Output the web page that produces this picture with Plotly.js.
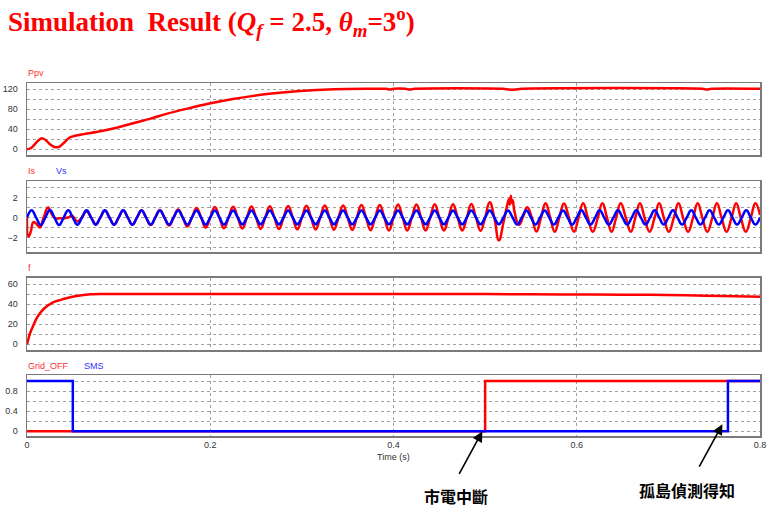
<!DOCTYPE html>
<html><head><meta charset="utf-8">
<script src="https://cdn.plot.ly/plotly-3.0.1.min.js"></script>
<style>html,body{margin:0;padding:0;background:#fff}#chart{width:767px;height:506px}</style>
</head><body><div id="chart"></div>
<script>
// ---- Ppv ----
const ppvT = [0,0.004,0.008,0.012,0.016,0.020,0.025,0.031,0.036,0.041,0.047,0.058,0.080,0.100,0.116,0.135,0.153,0.175,0.199,0.225,0.262,0.298,0.335,0.371,0.392,0.396,0.400,0.413,0.418,0.423,0.520,0.526,0.533,0.540,0.737,0.742,0.747,0.800];
const ppvV = [0,2,9,17,22,19,10,4,6,14,24,29,36,44,52,61,71,81,91,100,110,116,119.5,120.5,120.5,119,120.5,120.5,119,120.5,120.5,119,119,120.5,120.5,119,120.5,120.5];

// ---- Is (red) ----
const isT = [0,0.0015,0.004,0.007,0.010,0.014,0.018,0.023,0.027,0.031,0.036,0.041,0.045,0.049,0.052,0.055,0.060,0.065,0.070,
0.075,0.080,0.085,0.090,0.095,0.100,0.105,0.110,0.115,0.120,0.125,0.130,0.135,0.140,0.145,0.150,0.155,0.160,0.165,0.170,
0.175,0.180,0.185,0.190,0.195,0.200,0.205,0.210,0.215,0.220,0.225,0.230,0.235,0.240,0.245,0.250,0.255,0.260,0.265,0.270,
0.275,0.280,0.285,0.290,0.295,0.300,0.305,0.310,0.315,0.320,0.325,0.330,0.335,0.340,0.345,0.350,0.355,0.360,0.365,0.370,
0.375,0.380,0.385,0.390,0.395,0.400,0.405,0.410,0.415,0.420,0.425,0.430,0.435,0.440,0.445,0.450,0.455,0.460,0.465,0.470,
0.475,0.480,0.485,0.490,0.495,0.500,
0.505,0.510,0.515,0.520,0.524,0.526,0.527,0.528,0.529,0.530,0.532,0.537,0.5415,
0.546,0.551,0.556,0.561,0.566,0.571,0.576,0.581,0.586,0.5915,0.597,0.602,
0.607,0.612,0.6175,0.623,0.628,0.633,0.638,0.643,0.648,0.6535,0.659,0.664,
0.669,0.674,0.6795,0.685,0.690,0.695,0.7005,0.706,0.711,0.716,0.7215,0.727,
0.732,0.737,0.7425,0.748,0.753,0.758,0.7635,0.769,0.774,0.779,0.7845,0.790,
0.795,0.800];
const isV = [0,-1.9,-1.45,-0.45,-0.6,-1.0,-0.05,1.0,0.35,-0.07,-0.08,-0.06,0.0,0.17,-0.1,-0.4,0.05,0.6,0,
-0.65,0,0.68,0,-0.7,0,0.72,0,-0.72,0,0.74,0,-0.75,0,0.76,0,-0.8,0,0.82,0,
-0.9,0,0.95,0,-1.0,0,1.05,0,-1.07,0,1.08,0,-1.1,0,1.1,0,-1.12,0,1.13,0,
-1.15,0,1.16,0,-1.18,0,1.18,0,-1.2,0,1.2,0,-1.22,0,1.22,0,-1.25,0,1.25,0,
-1.27,0,1.27,0,-1.3,0,1.3,0,-1.3,0,1.32,0,-1.3,0,1.33,0,-1.3,0,1.33,0,
-1.3,0,1.35,0,-1.32,0,
1.53,0,-2.3,-0.5,1.2,1.85,1.3,2.2,1.5,1.75,0.6,-0.73,0.1,
1.03,0,-1.4,0,1.43,0,-1.42,0,1.42,0,-1.42,0,
1.43,0,-1.42,0,1.43,0,-1.42,0,1.43,0,-1.43,0,
1.43,0,-1.43,0,1.43,0,-1.43,0,1.43,0,-1.43,0,
1.43,0,-1.43,0,1.43,0,-1.43,0,1.43,0,-1.43,0,
1.43,0.25];

// ---- Vs (blue) ----
const vsT = [0,0.005,0.01,0.015,0.02,0.025,0.03,0.035,0.04,0.045,0.05,0.055,0.06,0.065,0.07,0.075,0.08,0.085,0.09,0.095,
0.1,0.105,0.11,0.115,0.12,0.125,0.13,0.135,0.14,0.145,0.15,0.155,0.16,0.165,0.17,0.175,0.18,0.185,0.19,0.195,
0.2,0.205,0.21,0.215,0.22,0.225,0.23,0.235,0.24,0.245,0.25,0.255,0.26,0.265,0.27,0.275,0.28,0.285,0.29,0.295,
0.3,0.305,0.31,0.315,0.32,0.325,0.33,0.335,0.34,0.345,0.35,0.355,0.36,0.365,0.37,0.375,0.38,0.385,0.39,0.395,
0.4,0.405,0.41,0.415,0.42,0.425,0.43,0.435,0.44,0.445,0.45,0.455,0.46,0.465,0.47,0.475,0.48,0.485,0.49,0.495,
0.5,0.505,0.51,0.515,0.52,0.525,0.53,0.535,0.54,0.545,0.55,0.555,0.56,0.565,0.57,0.575,0.58,0.585,0.59,0.595,
0.6,0.605,0.61,0.615,0.62,0.625,0.63,0.635,0.64,0.645,0.65,0.655,0.66,0.665,0.67,0.675,0.68,0.685,0.69,0.695,
0.7,0.705,0.71,0.715,0.72,0.725,0.73,0.735,0.74,0.745,0.75,0.755,0.76,0.765,0.77,0.775,0.78,0.785,0.79,0.795,
0.8];
const vsV = [0,0.74,0,-0.74,0,0.75,0,-0.74,0,0.74,0,-0.73,0,0.74,0,-0.72,0,0.73,0,-0.72,
0,0.73,0,-0.72,0,0.72,0,-0.71,0,0.72,0,-0.7,0,0.72,0,-0.7,0,0.71,0,-0.7,
0,0.71,0,-0.69,0,0.7,0,-0.68,0,0.7,0,-0.68,0,0.7,0,-0.68,0,0.7,0,-0.68,
0,0.7,0,-0.68,0,0.7,0,-0.68,0,0.7,0,-0.68,0,0.7,0,-0.68,0,0.7,0,-0.68,
0,0.7,0,-0.68,0,0.7,0,-0.68,0,0.7,0,-0.68,0,0.7,0,-0.68,0,0.7,0,-0.68,
0,0.7,0,-0.68,0,0.71,0,-0.69,0,0.71,0,-0.69,0,0.72,0,-0.7,0,0.72,0,-0.7,
0,0.73,0,-0.7,0,0.73,0,-0.7,0,0.73,0,-0.7,0,0.73,0,-0.7,0,0.73,0,-0.7,
0,0.73,0,-0.7,0,0.73,0,-0.7,0,0.73,0,-0.7,0,0.73,0,-0.7,0,0.73,0,-0.7,
0];

// ---- f ----
const fT = [0,0.0033,0.007,0.0106,0.016,0.022,0.029,0.036,0.044,0.054,0.069,0.085,0.50,0.55,0.62,0.68,0.72,0.76,0.80];
const fV = [0,11,19,26,33,38,42,44,46,48,49.7,50,50,49.8,49.5,49.2,48.8,48,47.3];

// ---- Grid_OFF / SMS ----
const gridT = [0,0.5,0.8];
const gridV = [0,1,1];
const smsT = [0,0.05,0.765,0.8];
const smsV = [1,0,1,1];

const RED='#ff0000', BLUE='#0000ff';
const traces = [
  {x:ppvT,y:ppvV,xaxis:'x',yaxis:'y',mode:'lines',line:{color:RED,width:2.5,shape:'spline',smoothing:0.8}},
  {x:isT,y:isV,xaxis:'x2',yaxis:'y2',mode:'lines',line:{color:RED,width:2.5,shape:'spline',smoothing:1.3}},
  {x:vsT,y:vsV,xaxis:'x2',yaxis:'y2',mode:'lines',line:{color:BLUE,width:2.5,shape:'spline',smoothing:1.3}},
  {x:fT,y:fV,xaxis:'x3',yaxis:'y3',mode:'lines',line:{color:RED,width:2.5,shape:'spline',smoothing:0.8}},
  {x:gridT,y:gridV,xaxis:'x4',yaxis:'y4',mode:'lines',line:{color:RED,width:2.5,shape:'hv'}},
  {x:smsT,y:smsV,xaxis:'x4',yaxis:'y4',mode:'lines',line:{color:BLUE,width:2.5,shape:'hv'}}
];

const GRID='#a0a0a0', FRAME='#7a7a7a';
const tickFont={family:'Liberation Sans, Arial, sans-serif',size:9,color:'#333'};
function xa(anchor,labels){return {anchor:anchor,range:[0,0.8],dtick:0.2,tick0:0,showgrid:true,gridcolor:GRID,griddash:'dot',gridwidth:1,
  zeroline:false,showline:true,mirror:true,linecolor:FRAME,linewidth:1.5,showticklabels:labels,tickfont:tickFont,ticks:'',fixedrange:true};}
function ya(dom,rng,dt,mdt){return {domain:dom,range:rng,dtick:dt,tick0:0,showgrid:true,gridcolor:GRID,griddash:'dot',gridwidth:1,
  minor:{dtick:mdt,tick0:0,showgrid:true,gridcolor:GRID,griddash:'dot',gridwidth:1},
  zeroline:false,showline:true,mirror:true,linecolor:FRAME,linewidth:1.5,tickfont:tickFont,ticks:'',ticklabelstandoff:6,fixedrange:true};}

const lblFont=(c)=>({family:'Liberation Sans, Arial, sans-serif',size:9,color:c});
function lbl(t,px,py,c){return {text:t,xref:'paper',yref:'paper',x:(px-27)/733,y:(436-py)/353,xanchor:'left',yanchor:'middle',showarrow:false,font:lblFont(c)};}
const cjk={family:'Noto Sans CJK TC, Noto Sans CJK SC, sans-serif',size:16,color:'#000'};

const layout={
  width:767,height:506,margin:{l:27,r:7,t:83,b:70},
  paper_bgcolor:'#fff',plot_bgcolor:'#fff',showlegend:false,
  title:{text:'<b>Simulation&nbsp; Result (<i>Q<sub>f</sub></i> = 2.5, <i>θ<sub>m</sub></i>=3<sup>o</sup>)</b>',
    x:8/767,xanchor:'left',xref:'container',y:1-22/506,yanchor:'middle',yref:'container',
    font:{family:'Liberation Serif, Times New Roman, serif',size:27,color:'#ff0000'}},
  xaxis:xa('y',false), xaxis2:xa('y2',false), xaxis3:xa('y3',false), xaxis4:xa('y4',true),
  yaxis:ya([0.796,1],[-11.4,132],40,20),
  yaxis2:ya([0.521,0.722],[-3.47,3.66],2,1),
  yaxis3:ya([0.2436,0.4476],[-5.7,66],20,10),
  yaxis4:ya([0,0.1728],[-0.094,1.12],0.4,0.2),
  annotations:[
    lbl('Ppv',26,73,'#ff3030'),
    lbl('Is',26,171,'#ff3030'),
    lbl('Vs',54,171,'#3030ff'),
    lbl('f',26,268,'#ff3030'),
    lbl('Grid_OFF',26,366,'#ff3030'),
    lbl('SMS',82,366,'#3030ff'),
    {text:'Time (s)',xref:'paper',yref:'paper',x:(393-27)/733,y:(436-457)/353,xanchor:'center',yanchor:'middle',showarrow:false,font:lblFont('#333')},
    {text:'<b>市電中斷</b>',xref:'paper',yref:'paper',x:(456-27)/733,y:(436-496)/353,xanchor:'center',yanchor:'middle',showarrow:false,font:cjk},
    {text:'<b>孤島偵測得知</b>',xref:'paper',yref:'paper',x:(687-27)/733,y:(436-490)/353,xanchor:'center',yanchor:'middle',showarrow:false,font:cjk},
    {text:'',xref:'x4',yref:'y4',x:0.497,y:0,ax:-24,ay:44,showarrow:true,arrowhead:2,arrowsize:1.3,arrowwidth:1.6,arrowcolor:'#000'},
    {text:'',xref:'x4',yref:'y4',x:0.759,y:0.14,ax:-24,ay:44,showarrow:true,arrowhead:2,arrowsize:1.3,arrowwidth:1.6,arrowcolor:'#000'}
  ]
};
Plotly.newPlot('chart',traces,layout,{displayModeBar:false,staticPlot:true});
</script></body></html>
